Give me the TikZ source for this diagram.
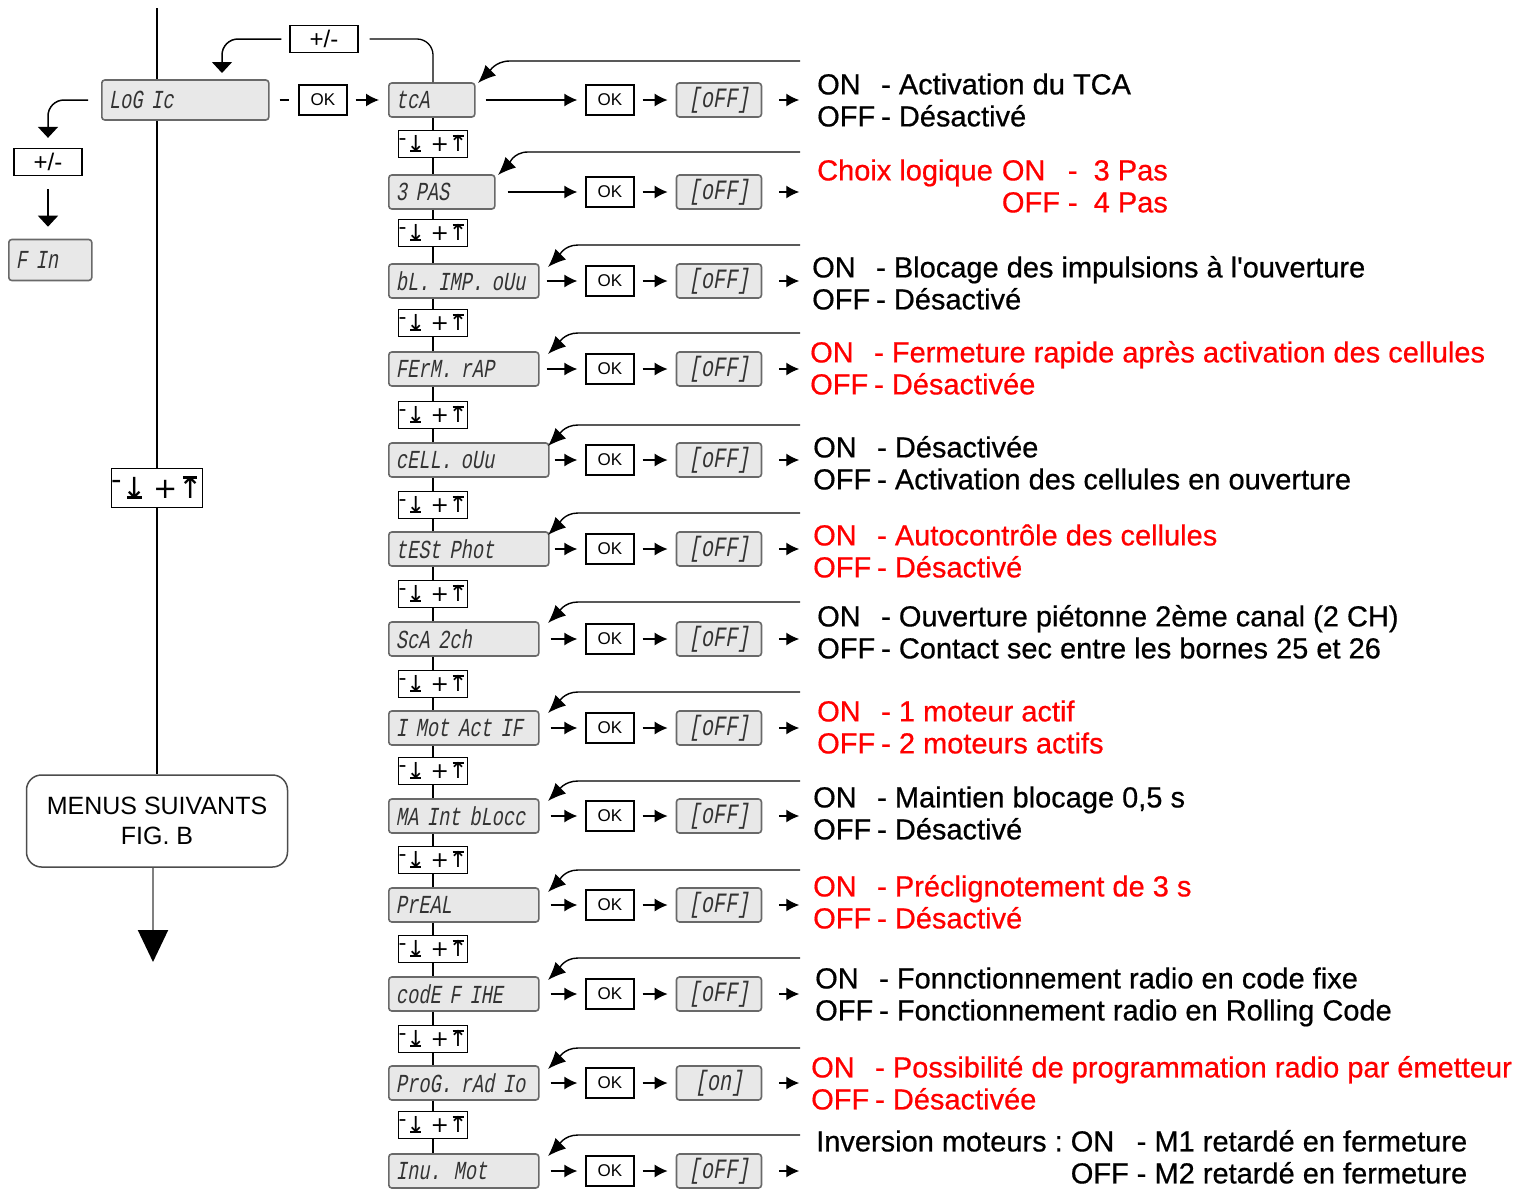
\documentclass[tikz,border=0pt]{standalone}
\usepackage{fontspec}
\setmainfont{Liberation Sans}
\newfontfamily\lcdfont[FakeSlant=0.18,FakeStretch=0.72]{Liberation Mono}
\newfontfamily\symfont{DejaVu Sans}
\newfontfamily\descfont[FakeBold=0.6]{Liberation Sans}
\usetikzlibrary{positioning,calc,arrows.meta}
\definecolor{lcdgray}{RGB}{232,232,232}
\definecolor{lcdline}{RGB}{105,105,105}
\newcommand{\keydown}{\ooalign{↓\cr\hidewidth\rule[-0.02em]{0.5em}{0.09em}\hidewidth\cr}}
\newcommand{\keyup}{\ooalign{↑\cr\hidewidth\rule[0.68em]{0.5em}{0.09em}\hidewidth\cr}}
\newcommand{\navkeys}{\raisebox{0.3em}{-}\keydown\hspace{0.25em}+\keyup}

\begin{document}
\begin{tikzpicture}[x=1pt,y=-1pt,
  every node/.style={inner sep=0pt},
  lcd/.style={draw=lcdline,line width=1.6pt,fill=lcdgray,rounded corners=3pt,
    anchor=west,minimum height=34pt,text width=#1,inner xsep=7pt,align=left,
    text=black!80,font=\lcdfont\fontsize{26}{26}\selectfont},
  val/.style={draw=lcdline,line width=1.6pt,fill=lcdgray,rounded corners=3pt,
    minimum width=85pt,minimum height=34pt,text=black!80,font=\lcdfont\fontsize{28}{28}\selectfont},
  okbox/.style={draw,line width=1.3pt,minimum width=48pt,minimum height=30pt,
    font=\fontsize{17}{17}\selectfont},
  pmbox/.style={draw,line width=1.3pt,minimum width=68pt,minimum height=27pt,
    font=\fontsize{24}{24}\selectfont},
  navbox/.style={draw,line width=1.3pt,fill=white,minimum width=66pt,minimum height=27pt,
    font=\symfont\fontsize{22}{22}\selectfont},
  menus/.style={draw=black!70,line width=1.5pt,rounded corners=15pt,minimum width=261pt,
    minimum height=92pt,align=center,font=\fontsize{25}{30}\selectfont},
  desc/.style={anchor=west,font=\descfont\fontsize{29}{32}\selectfont},
  fwd/.style={-{Latex[length=13pt,width=13pt]},line width=1.4pt,shorten <=8pt,shorten >=8pt},
  ret/.style={-{Latex[length=18pt,width=15pt]},line width=1.4pt},
  bend-arr/.style={-{Triangle[length=11pt,width=20pt]},line width=1.5pt,rounded corners=16pt},
  link/.style={line width=1.3pt},
  ]

  \useasboundingbox (0,0) rectangle (1528,1189);

  % left column
  \node[lcd=153pt,minimum height=40pt] (logic-box) at (101,100) {LoG Ic};
  \node[okbox] (logic-ok) at (323,100) {OK};
  \node[pmbox] (logic-pm) at (324,39) {+/-};
  \node[pmbox] (fin-pm) at (48,162) {+/-};
  \node[lcd=69pt,minimum height=41pt] (fin-box) at (8,260) {F In};
  \node[navbox,minimum width=90pt,minimum height=39pt,font=\symfont\fontsize{29}{29}\selectfont] (logic-nav) at (157,488) {\navkeys};
  \node[menus] (menus-box) at (157,821) {MENUS SUIVANTS\\FIG. B};
  \coordinate (logic-top) at (157,8);
  \coordinate (logic-in) at (222,73);
  \coordinate (menus-end) at (153,962);

  \draw[line width=2.6pt] (logic-top) -- (logic-top |- logic-box.north);
  \draw[line width=2pt] (logic-nav |- logic-box.south) -- (logic-nav.north);
  \draw[line width=2pt] (logic-nav.south) -- (logic-nav |- menus-box.north);
  \draw[gray,line width=2pt,-{Triangle[length=32pt,width=30pt,color=black]}] (menus-end |- menus-box.south) -- (menus-end);
  \draw[bend-arr,shorten <=13pt,shorten >=10pt] (logic-box.west) -| (fin-pm.north);
  \draw[-{Triangle[length=11pt,width=20pt]},line width=1.5pt,shorten <=13pt,shorten >=12pt] (fin-pm.south) -- (fin-pm.south |- fin-box.north);
  \draw[bend-arr,shorten <=8pt] (logic-pm.west) -| (logic-in);
  \draw[link,shorten <=10pt,shorten >=9pt] (logic-box) -- (logic-ok);

  % menu rows
  \node[lcd=72pt] (tca-box) at (388,100) {tcA};
  \node[okbox] (tca-ok) at (610,100) {OK};
  \node[val,right=41pt of tca-ok] (tca-val) {[oFF]};
  \node[desc] (tca-text) at (817,104) {\begin{tabular}{@{}l@{\hspace{6pt}}l@{}}ON & - Activation du TCA\\OFF & - Désactivé\end{tabular}};
  \coordinate (tca-ret-start) at (800,61);
  \coordinate (tca-ret-end) at (478,83);

  \node[lcd=92pt] (pas-box) at (388,192) {3 PAS};
  \node[okbox] (pas-ok) at (610,192) {OK};
  \node[val,right=41pt of pas-ok] (pas-val) {[oFF]};
  \node[desc,text=red] (pas-text) at (817,190) {\begin{tabular}{@{}l@{\hspace{9pt}}l@{\hspace{8pt}}l@{}}Choix logique & ON & -\ \ 3 Pas\\ & OFF & -\ \ 4 Pas\end{tabular}};
  \coordinate (pas-ret-start) at (800,152);
  \coordinate (pas-ret-end) at (498,175);

  \node[lcd=136pt] (blimp-box) at (388,281) {bL. IMP. oUu};
  \node[okbox] (blimp-ok) at (610,281) {OK};
  \node[val,right=41pt of blimp-ok] (blimp-val) {[oFF]};
  \node[desc] (blimp-text) at (812,287) {\begin{tabular}{@{}l@{\hspace{6pt}}l@{}}ON & - Blocage des impulsions à l'ouverture\\OFF & - Désactivé\end{tabular}};
  \coordinate (blimp-ret-start) at (800,245);
  \coordinate (blimp-ret-end) at (548,267);

  \node[lcd=136pt] (ferm-box) at (388,369) {FErM. rAP};
  \node[okbox] (ferm-ok) at (610,369) {OK};
  \node[val,right=41pt of ferm-ok] (ferm-val) {[oFF]};
  \node[desc,text=red] (ferm-text) at (810,372) {\begin{tabular}{@{}l@{\hspace{6pt}}l@{}}ON & - Fermeture rapide après activation des cellules\\OFF & - Désactivée\end{tabular}};
  \coordinate (ferm-ret-start) at (800,333);
  \coordinate (ferm-ret-end) at (548,354);

  \node[lcd=146pt] (cell-box) at (388,460) {cELL. oUu};
  \node[okbox] (cell-ok) at (610,460) {OK};
  \node[val,right=41pt of cell-ok] (cell-val) {[oFF]};
  \node[desc] (cell-text) at (813,467) {\begin{tabular}{@{}l@{\hspace{6pt}}l@{}}ON & - Désactivée\\OFF & - Activation des cellules en ouverture\end{tabular}};
  \coordinate (cell-ret-start) at (800,425);
  \coordinate (cell-ret-end) at (548,446);

  \node[lcd=146pt] (test-box) at (388,549) {tESt Phot};
  \node[okbox] (test-ok) at (610,549) {OK};
  \node[val,right=41pt of test-ok] (test-val) {[oFF]};
  \node[desc,text=red] (test-text) at (813,555) {\begin{tabular}{@{}l@{\hspace{6pt}}l@{}}ON & - Autocontrôle des cellules\\OFF & - Désactivé\end{tabular}};
  \coordinate (test-ret-start) at (800,513);
  \coordinate (test-ret-end) at (548,535);

  \node[lcd=136pt] (sca-box) at (388,639) {ScA 2ch};
  \node[okbox] (sca-ok) at (610,639) {OK};
  \node[val,right=41pt of sca-ok] (sca-val) {[oFF]};
  \node[desc] (sca-text) at (817,636) {\begin{tabular}{@{}l@{\hspace{6pt}}l@{}}ON & - Ouverture piétonne 2ème canal (2 CH)\\OFF & - Contact sec entre les bornes 25 et 26\end{tabular}};
  \coordinate (sca-ret-start) at (800,602);
  \coordinate (sca-ret-end) at (548,623);

  \node[lcd=136pt] (mot-box) at (388,728) {I Mot Act IF};
  \node[okbox] (mot-ok) at (610,728) {OK};
  \node[val,right=41pt of mot-ok] (mot-val) {[oFF]};
  \node[desc,text=red] (mot-text) at (817,731) {\begin{tabular}{@{}l@{\hspace{6pt}}l@{}}ON & - 1 moteur actif\\OFF & - 2 moteurs actifs\end{tabular}};
  \coordinate (mot-ret-start) at (800,692);
  \coordinate (mot-ret-end) at (548,713);

  \node[lcd=136pt] (maint-box) at (388,816) {MA Int bLocc};
  \node[okbox] (maint-ok) at (610,816) {OK};
  \node[val,right=41pt of maint-ok] (maint-val) {[oFF]};
  \node[desc] (maint-text) at (813,817) {\begin{tabular}{@{}l@{\hspace{6pt}}l@{}}ON & - Maintien blocage 0,5 s\\OFF & - Désactivé\end{tabular}};
  \coordinate (maint-ret-start) at (800,781);
  \coordinate (maint-ret-end) at (548,801);

  \node[lcd=136pt] (preal-box) at (388,905) {PrEAL};
  \node[okbox] (preal-ok) at (610,905) {OK};
  \node[val,right=41pt of preal-ok] (preal-val) {[oFF]};
  \node[desc,text=red] (preal-text) at (813,906) {\begin{tabular}{@{}l@{\hspace{6pt}}l@{}}ON & - Préclignotement de 3 s\\OFF & - Désactivé\end{tabular}};
  \coordinate (preal-ret-start) at (800,870);
  \coordinate (preal-ret-end) at (548,892);

  \node[lcd=136pt] (code-box) at (388,994) {codE F IHE};
  \node[okbox] (code-ok) at (610,994) {OK};
  \node[val,right=41pt of code-ok] (code-val) {[oFF]};
  \node[desc] (code-text) at (815,998) {\begin{tabular}{@{}l@{\hspace{6pt}}l@{}}ON & - Fonnctionnement radio en code fixe\\OFF & - Fonctionnement radio en Rolling Code\end{tabular}};
  \coordinate (code-ret-start) at (800,958);
  \coordinate (code-ret-end) at (548,980);

  \node[lcd=136pt] (prog-box) at (388,1083) {ProG. rAd Io};
  \node[okbox] (prog-ok) at (610,1083) {OK};
  \node[val,right=41pt of prog-ok] (prog-val) {[on]};
  \node[desc,text=red] (prog-text) at (811,1087) {\begin{tabular}{@{}l@{\hspace{6pt}}l@{}}ON & - Possibilité de programmation radio par émetteur\\OFF & - Désactivée\end{tabular}};
  \coordinate (prog-ret-start) at (800,1048);
  \coordinate (prog-ret-end) at (548,1069);

  \node[lcd=136pt] (inv-box) at (388,1171) {Inu. Mot};
  \node[okbox] (inv-ok) at (610,1171) {OK};
  \node[val,right=41pt of inv-ok] (inv-val) {[oFF]};
  \node[desc] (inv-text) at (816,1161) {\begin{tabular}{@{}l@{\hspace{8pt}}l@{\hspace{8pt}}l@{}}Inversion moteurs : & ON & - M1 retardé en fermeture\\ & OFF & - M2 retardé en fermeture\end{tabular}};
  \coordinate (inv-ret-start) at (800,1135);
  \coordinate (inv-ret-end) at (548,1156);

  % up / down keys between the rows
  \node[navbox] (tca-nav) at (433,144) {\navkeys};
  \node[navbox] (pas-nav) at (433,233) {\navkeys};
  \node[navbox] (blimp-nav) at (433,323) {\navkeys};
  \node[navbox] (ferm-nav) at (433,415) {\navkeys};
  \node[navbox] (cell-nav) at (433,505) {\navkeys};
  \node[navbox] (test-nav) at (433,594) {\navkeys};
  \node[navbox] (sca-nav) at (433,684) {\navkeys};
  \node[navbox] (mot-nav) at (433,771) {\navkeys};
  \node[navbox] (maint-nav) at (433,860) {\navkeys};
  \node[navbox] (preal-nav) at (433,949) {\navkeys};
  \node[navbox] (code-nav) at (433,1039) {\navkeys};
  \node[navbox] (prog-nav) at (433,1125) {\navkeys};

  \draw[link,rounded corners=16pt,shorten >=11pt] (tca-nav |- tca-box.north) |- (logic-pm.east);
  \draw[link] (tca-nav |- tca-box.south) -- (tca-nav.north);
  \draw[link] (tca-nav.south) -- (tca-nav |- pas-box.north);
  \draw[link] (pas-nav |- pas-box.south) -- (pas-nav.north);
  \draw[link] (pas-nav.south) -- (pas-nav |- blimp-box.north);
  \draw[link] (blimp-nav |- blimp-box.south) -- (blimp-nav.north);
  \draw[link] (blimp-nav.south) -- (blimp-nav |- ferm-box.north);
  \draw[link] (ferm-nav |- ferm-box.south) -- (ferm-nav.north);
  \draw[link] (ferm-nav.south) -- (ferm-nav |- cell-box.north);
  \draw[link] (cell-nav |- cell-box.south) -- (cell-nav.north);
  \draw[link] (cell-nav.south) -- (cell-nav |- test-box.north);
  \draw[link] (test-nav |- test-box.south) -- (test-nav.north);
  \draw[link] (test-nav.south) -- (test-nav |- sca-box.north);
  \draw[link] (sca-nav |- sca-box.south) -- (sca-nav.north);
  \draw[link] (sca-nav.south) -- (sca-nav |- mot-box.north);
  \draw[link] (mot-nav |- mot-box.south) -- (mot-nav.north);
  \draw[link] (mot-nav.south) -- (mot-nav |- maint-box.north);
  \draw[link] (maint-nav |- maint-box.south) -- (maint-nav.north);
  \draw[link] (maint-nav.south) -- (maint-nav |- preal-box.north);
  \draw[link] (preal-nav |- preal-box.south) -- (preal-nav.north);
  \draw[link] (preal-nav.south) -- (preal-nav |- code-box.north);
  \draw[link] (code-nav |- code-box.south) -- (code-nav.north);
  \draw[link] (code-nav.south) -- (code-nav |- prog-box.north);
  \draw[link] (prog-nav |- prog-box.south) -- (prog-nav.north);
  \draw[link] (prog-nav.south) -- (prog-nav |- inv-box.north);

  % OK -> value -> text
  \draw[fwd,shorten >=9pt] (logic-ok) -- (tca-box);
  \draw[fwd,shorten <=10pt] (tca-box) -- (tca-ok);
  \draw[fwd,shorten <=12pt] (pas-box) -- (pas-ok);
  \draw[fwd,shorten <=7pt] (blimp-box) -- (blimp-ok);
  \draw[fwd,shorten <=7pt] (ferm-box) -- (ferm-ok);
  \draw[fwd,shorten <=5pt] (cell-box) -- (cell-ok);
  \draw[fwd,shorten <=5pt] (test-box) -- (test-ok);
  \draw[fwd,shorten <=11pt] (sca-box) -- (sca-ok);
  \draw[fwd,shorten <=11pt] (mot-box) -- (mot-ok);
  \draw[fwd,shorten <=11pt] (maint-box) -- (maint-ok);
  \draw[fwd,shorten <=11pt] (preal-box) -- (preal-ok);
  \draw[fwd,shorten <=11pt] (code-box) -- (code-ok);
  \draw[fwd,shorten <=11pt] (prog-box) -- (prog-ok);
  \draw[fwd,shorten <=11pt] (inv-box) -- (inv-ok);

  \draw[fwd] (tca-ok) -- (tca-val);
  \draw[fwd] (pas-ok) -- (pas-val);
  \draw[fwd] (blimp-ok) -- (blimp-val);
  \draw[fwd] (ferm-ok) -- (ferm-val);
  \draw[fwd] (cell-ok) -- (cell-val);
  \draw[fwd] (test-ok) -- (test-val);
  \draw[fwd] (sca-ok) -- (sca-val);
  \draw[fwd] (mot-ok) -- (mot-val);
  \draw[fwd] (maint-ok) -- (maint-val);
  \draw[fwd] (preal-ok) -- (preal-val);
  \draw[fwd] (code-ok) -- (code-val);
  \draw[fwd] (prog-ok) -- (prog-val);
  \draw[fwd] (inv-ok) -- (inv-val);

  \draw[fwd,shorten <=17pt,shorten >=0pt] (tca-val.east) -- ++(37,0);
  \draw[fwd,shorten <=17pt,shorten >=0pt] (pas-val.east) -- ++(37,0);
  \draw[fwd,shorten <=17pt,shorten >=0pt] (blimp-val.east) -- ++(37,0);
  \draw[fwd,shorten <=17pt,shorten >=0pt] (ferm-val.east) -- ++(37,0);
  \draw[fwd,shorten <=17pt,shorten >=0pt] (cell-val.east) -- ++(37,0);
  \draw[fwd,shorten <=17pt,shorten >=0pt] (test-val.east) -- ++(37,0);
  \draw[fwd,shorten <=17pt,shorten >=0pt] (sca-val.east) -- ++(37,0);
  \draw[fwd,shorten <=17pt,shorten >=0pt] (mot-val.east) -- ++(37,0);
  \draw[fwd,shorten <=17pt,shorten >=0pt] (maint-val.east) -- ++(37,0);
  \draw[fwd,shorten <=17pt,shorten >=0pt] (preal-val.east) -- ++(37,0);
  \draw[fwd,shorten <=17pt,shorten >=0pt] (code-val.east) -- ++(37,0);
  \draw[fwd,shorten <=17pt,shorten >=0pt] (prog-val.east) -- ++(37,0);
  \draw[fwd,shorten <=17pt,shorten >=0pt] (inv-val.east) -- ++(37,0);

  % back to the menu
  \draw[ret] (tca-ret-start) -- ++(-290,0) to[out=180,in=45] (tca-ret-end);
  \draw[ret] (pas-ret-start) -- ++(-272,0) to[out=180,in=45] (pas-ret-end);
  \draw[ret] (blimp-ret-start) -- ++(-222,0) to[out=180,in=45] (blimp-ret-end);
  \draw[ret] (ferm-ret-start) -- ++(-222,0) to[out=180,in=45] (ferm-ret-end);
  \draw[ret] (cell-ret-start) -- ++(-222,0) to[out=180,in=45] (cell-ret-end);
  \draw[ret] (test-ret-start) -- ++(-222,0) to[out=180,in=45] (test-ret-end);
  \draw[ret] (sca-ret-start) -- ++(-222,0) to[out=180,in=45] (sca-ret-end);
  \draw[ret] (mot-ret-start) -- ++(-222,0) to[out=180,in=45] (mot-ret-end);
  \draw[ret] (maint-ret-start) -- ++(-222,0) to[out=180,in=45] (maint-ret-end);
  \draw[ret] (preal-ret-start) -- ++(-222,0) to[out=180,in=45] (preal-ret-end);
  \draw[ret] (code-ret-start) -- ++(-222,0) to[out=180,in=45] (code-ret-end);
  \draw[ret] (prog-ret-start) -- ++(-222,0) to[out=180,in=45] (prog-ret-end);
  \draw[ret] (inv-ret-start) -- ++(-222,0) to[out=180,in=45] (inv-ret-end);

\end{tikzpicture}
\end{document}
